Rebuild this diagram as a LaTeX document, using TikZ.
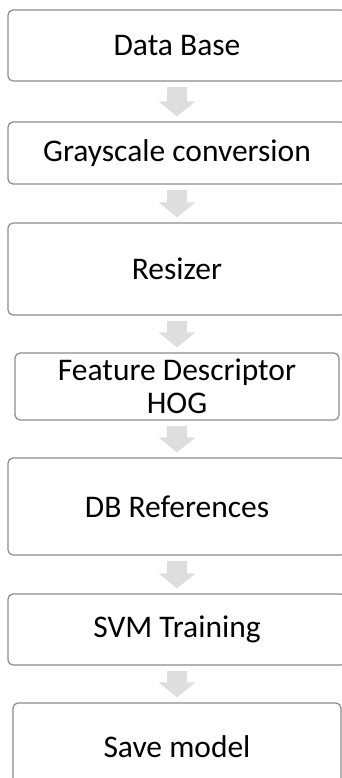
\documentclass[tikz,border=0pt]{standalone}
\usepackage{fontspec}
\setmainfont{Carlito}
\usetikzlibrary{arrows.meta}

\tikzset{
  stepbox/.style={draw=black!45, line width=1.2pt, rounded corners=5pt, fill=white,
    inner sep=0pt, align=center, font=\fontsize{31.5}{33}\selectfont},
  bigarrow/.style={draw=black!13, line width=20pt,
    -{Triangle[width=36pt,length=15pt]}, shorten <=5pt, shorten >=5pt}
}

\begin{document}
\begin{tikzpicture}[x=1pt, y=-1pt]
\useasboundingbox (0,0) rectangle (341,778);

\node[stepbox, minimum width=338pt, minimum height=71pt] (db) at (177,45.5) {Data Base};
\node[stepbox, minimum width=338pt, minimum height=62pt] (gray) at (177,153) {Grayscale conversion};
\node[stepbox, minimum width=338pt, minimum height=92pt] (resize) at (177,269) {Resizer};
\node[stepbox, minimum width=324pt, minimum height=67pt] (hog) at (177,386.5) {Feature Descriptor\\HOG};
\node[stepbox, minimum width=338pt, minimum height=97pt] (dbref) at (177,506.5) {DB References};
\node[stepbox, minimum width=338pt, minimum height=71pt] (svm) at (177,629.5) {SVM Training};
\node[stepbox, minimum width=328pt, minimum height=87pt] (save) at (177,746.5) {Save model};

\foreach \a/\b in {db/gray, gray/resize, resize/hog, hog/dbref, dbref/svm, svm/save}
  \draw[bigarrow] (\a.south) -- (\b.north);
\end{tikzpicture}
\end{document}
